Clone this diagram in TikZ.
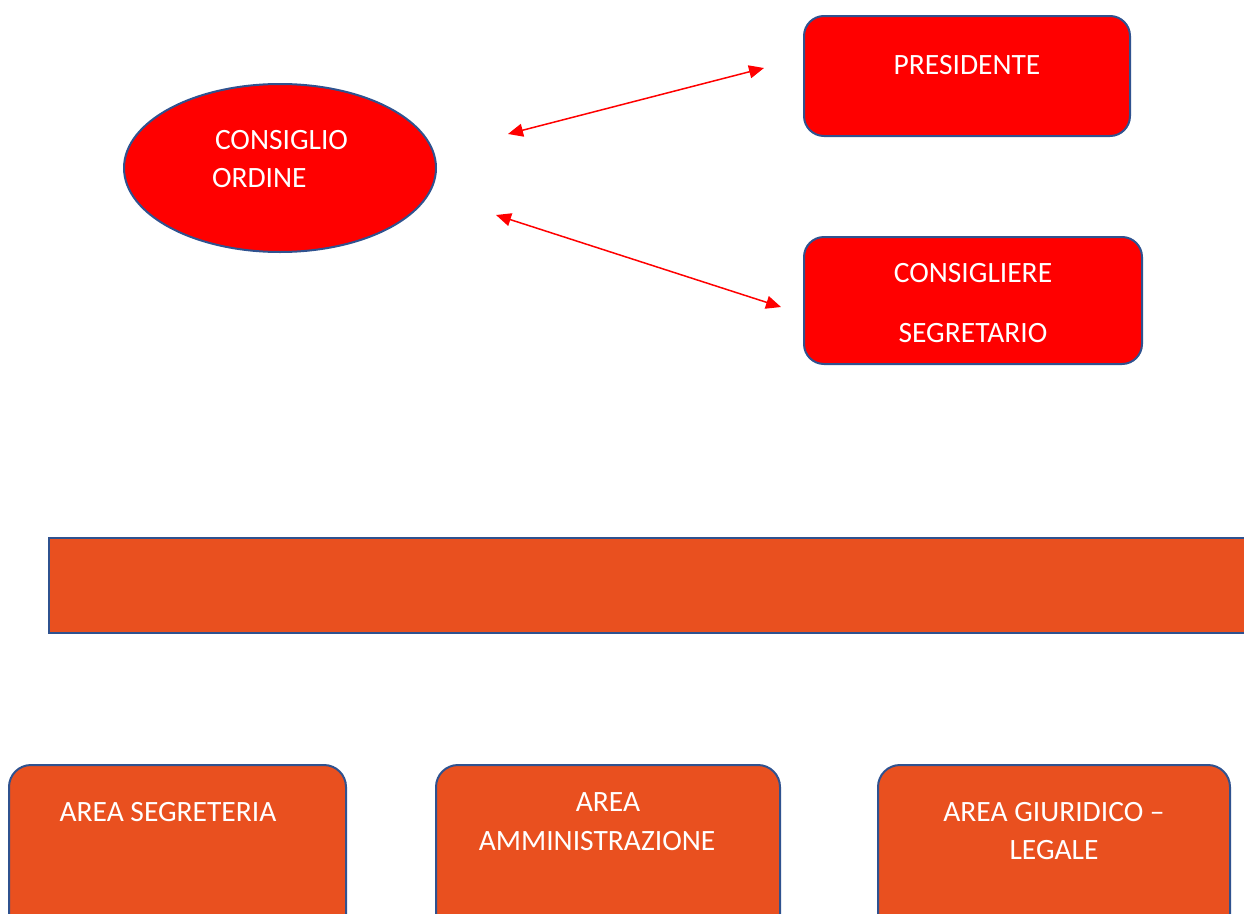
\documentclass[tikz,border=0pt]{standalone}
\usepackage{fontspec}
\setmainfont{Carlito}
\usetikzlibrary{arrows.meta,shapes.geometric}
\definecolor{bordo}{HTML}{2F528F}
\definecolor{rosso}{HTML}{FF0000}
\definecolor{arancio}{HTML}{E9501F}
\tikzset{
  every node/.style={inner sep=0pt, outer sep=0pt},
  ovale/.style={ellipse, draw=bordo, line width=2pt, fill=rosso},
  boxrosso/.style={rectangle, rounded corners=20pt, draw=bordo, line width=2pt, fill=rosso},
  boxarancio/.style={rectangle, rounded corners=22pt, draw=bordo, line width=2pt, fill=arancio},
  barra/.style={rectangle, draw=bordo, line width=2.5pt, fill=arancio},
  testo/.style={text=white, font=\fontsize{29.5}{38}\selectfont},
  freccia/.style={rosso, line width=1.5pt, {Triangle[length=15pt,width=13pt]}-{Triangle[length=15pt,width=13pt]}}
}
\begin{document}
\begin{tikzpicture}[x=1pt,y=-1pt]
\useasboundingbox (0,0) rectangle (1244,913);
\clip (0,0) rectangle (1244,913);
% top
\node[ovale, minimum width=312pt, minimum height=168pt] (consiglio) at (280,168) {};
\node[testo, align=left, anchor=west] (tcons) at (212,159) {\hspace*{3pt}CONSIGLIO\\ORDINE};
\node[boxrosso, minimum width=326pt, minimum height=120pt] (pres) at (967,76) {};
\node[testo] (tpres) at (967,65) {PRESIDENTE};
\node[boxrosso, minimum width=338pt, minimum height=127pt] (segr) at (973,300.5) {};
\node[testo] (tsegr1) at (973,273) {CONSIGLIERE};
\node[testo] (tsegr2) at (973,333) {SEGRETARIO};
% arrows
\coordinate (a1s) at (508,134);
\coordinate (a1e) at (764,68);
\coordinate (a2s) at (496,215);
\coordinate (a2e) at (781,307);
\draw[freccia] (a1s) -- (a1e);
\draw[freccia] (a2s) -- (a2e);
% bar
\node[barra, minimum width=1240pt, minimum height=95pt, anchor=north west] (bar) at (49,538) {};
% bottom boxes
\node[boxarancio, minimum width=337pt, minimum height=180pt, anchor=north west] (b1) at (9,765) {};
\node[testo] (tb1) at (168,812) {AREA SEGRETERIA};
\node[boxarancio, minimum width=344pt, minimum height=180pt, anchor=north west] (b2) at (436,765) {};
\node[testo] (tb2a) at (608,802) {AREA};
\node[testo] (tb2b) at (597,841) {AMMINISTRAZIONE};
\node[boxarancio, minimum width=352pt, minimum height=180pt, anchor=north west] (b3) at (878,765) {};
\node[testo] (tb3a) at (1054,812) {AREA GIURIDICO –};
\node[testo] (tb3b) at (1054,850) {LEGALE};
\end{tikzpicture}
\end{document}
